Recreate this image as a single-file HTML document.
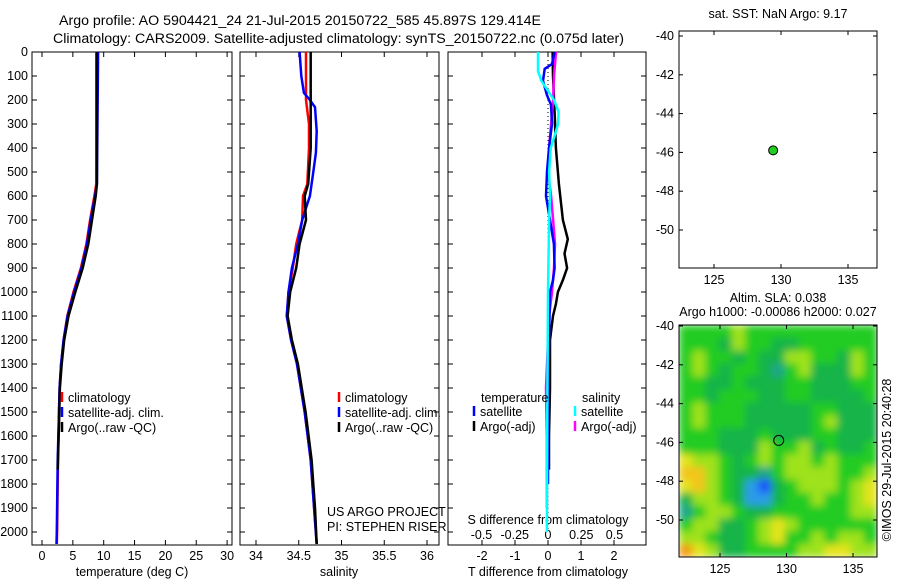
<!DOCTYPE html>
<html><head><meta charset="utf-8"><style>
body{margin:0;background:#fff;}
svg{display:block;font-family:"Liberation Sans",Arial,sans-serif;font-size:12.5px;}
</style></head><body>
<svg id="fig" width="900" height="580" viewBox="0 0 900 580">
<defs>
<filter id="blur" x="0" y="0" width="1" height="1"><feGaussianBlur stdDeviation="4" edgeMode="duplicate"/></filter>
<clipPath id="mapclip"><rect x="679" y="325" width="198" height="232"/></clipPath>
</defs>
<text x="59" y="25" style="font-size:14.2px">Argo profile: AO 5904421_24 21-Jul-2015 20150722_585 45.897S 129.414E</text>
<text x="53" y="43" style="font-size:14.2px">Climatology: CARS2009. Satellite-adjusted climatology: synTS_20150722.nc (0.075d later)</text>
<g id="g"></g>
</svg>
<script>
const depthTicks=[0,100,200,300,400,500,600,700,800,900,1000,1100,1200,1300,1400,1500,1600,1700,1800,1900,2000];
const tempTicks=[0,5,10,15,20,25,30];
const salTicks=[34,34.5,35,35.5,36];
const tdiffTicks=[-2,-1,0,1,2];
const sdiffTicks=[-0.5,-0.25,0,0.25,0.5];
const sdiffLabels=["-0.5","-0.25","0","0.25","0.5"];
const lonTicks=[125,130,135];
const latTicks=[-40,-42,-44,-46,-48,-50];

const tDepth=[0,550,600,700,800,900,1000,1100,1200,1300,1400,1500,1700,2000,2050];
const tArgo=[8.9,8.9,8.7,8.1,7.5,6.6,5.4,4.3,3.6,3.2,2.9,2.8,2.6,2.4,2.3];
const tClim=[8.8,8.8,8.5,7.8,7.2,6.3,5.1,4.1,3.5,3.1,2.85,2.75,2.6,2.45,2.4];
const tSat=[9.1,8.9,8.6,7.9,7.3,6.4,5.2,4.15,3.5,3.1,2.85,2.75,2.55,2.4,2.35];
const argoEnd=1740;

const sDepth=[0,200,300,400,550,600,700,800,900,1000,1100,1200,1300,1500,1700,1900,2050];
const sArgo=[34.64,34.64,34.64,34.64,34.61,34.57,34.585,34.51,34.47,34.40,34.37,34.42,34.49,34.58,34.65,34.69,34.71];
const sClim=[34.585,34.585,34.62,34.62,34.6,34.55,34.54,34.47,34.43,34.38,34.36,34.41,34.48,34.57,34.64,34.68,34.71];
const satSDepth=[0,100,170,200,230,330,420,500,600,700,800,900,1000,1100,1200,1300,1500,1700,1900,2050];
const sSat=[34.51,34.53,34.56,34.63,34.69,34.71,34.7,34.67,34.63,34.54,34.49,34.42,34.38,34.36,34.41,34.48,34.57,34.64,34.68,34.71];

const dDepthBlack=[0,100,250,400,450,550,700,780,840,900,950,1000,1050,1100,1200,1400,1600,1740];
const dTArgo=[0.14,0.15,0.2,0.24,0.27,0.33,0.45,0.6,0.5,0.58,0.45,0.3,0.24,0.15,0.06,0.06,0.03,0.03];
const dDepthBlue=[0,50,70,120,180,220,300,400,500,600,700,800,900,950,1000,1200,1500,1800];
const dTSat=[0.2,0.12,-0.1,-0.15,-0.03,0.09,0.12,0.03,-0.03,-0.06,0.06,0.18,0.2,0.15,0.06,0.03,0.0,0.0];
const dDepthCyan=[0,80,120,200,250,300,350,400,500,600,700,1000,1500,2000];
const dSSat=[-0.075,-0.075,-0.05,0.045,0.08,0.075,0.05,0.02,0.008,0.015,0.008,0.0,-0.005,-0.008];
const dDepthMag=[0,100,200,300,400,500,600,700,800,900,1000,1100,1400,1600,1900];
const dSArgo=[0.06,0.045,0.038,0.023,0.008,0.0,0.023,0.038,0.053,0.045,0.03,0.008,-0.015,-0.008,-0.008];

const slaGrid=[
"555565555555555","555465544555555","565545446655465","565455435644465","554454445544455",
"554555445544445","565554444455444","565554444456444","555444544455444","555444655645445",
"766545656656555","886544356666556","786542145666567","466542245565567","356654455555566",
"566445676555555","665445675565665","976445555667766"];
const slaColors={1:"#1e50ff",2:"#2a9ce8",3:"#1fa58a",4:"#14b448",5:"#22cc22",6:"#9ee21e",7:"#e4e41e",8:"#f2c41c",9:"#f39a10"};

const NS="http://www.w3.org/2000/svg";
const G=document.getElementById('g');
function el(t,a,p){const e=document.createElementNS(NS,t);for(const k in a)e.setAttribute(k,a[k]);(p||G).appendChild(e);return e;}
function txt(x,y,s,anchor,p){const e=el('text',{x:x,y:y,'text-anchor':anchor||'start'},p);e.textContent=s;return e;}

const PT=52,PB=545;
const yD=d=>PT+d*0.24;
function panel(x0,x1,name){
  const g=el('g',{});
  
  
  el('rect',{x:x0,y:PT,width:x1-x0,height:PB-PT,fill:'#fff',stroke:'#000','stroke-width':1},g);
  depthTicks.forEach(d=>{el('line',{x1:x0,x2:x0+5,y1:yD(d),y2:yD(d),stroke:'#000'},g);el('line',{x1:x1-5,x2:x1,y1:yD(d),y2:yD(d),stroke:'#000'},g);});
  return g;
}
function line(g,xs,ds,xf,color,w,name){
  const p=xs.map((v,i)=>xf(v).toFixed(1)+','+yD(ds[i]).toFixed(1)).join(' ');
  const e=el('polyline',{points:p,fill:'none',stroke:color,'stroke-width':w||2},g);
  
  
  return e;
}
const yl=el('g',{});


depthTicks.forEach(d=>txt(28,yD(d)+4,String(d),'end',yl));

// Panel 1 temperature
const xT=v=>42+v*6.17;
const p1=panel(32,232,'temperature-panel');
tempTicks.forEach(v=>{el('line',{x1:xT(v),x2:xT(v),y1:PT,y2:PT+5,stroke:'#000'},p1);el('line',{x1:xT(v),x2:xT(v),y1:PB,y2:PB-5,stroke:'#000'},p1);txt(xT(v),560,String(v),'middle',p1);});
txt(132,576,'temperature (deg C)','middle',p1);
line(p1,tClim,tDepth,xT,'#f00',2.5,'temperature-climatology-line');
line(p1,tSat,tDepth,xT,'#00f',2.5,'temperature-satellite-line');
const ai=tDepth.filter(d=>d<=argoEnd).length;
line(p1,tArgo.slice(0,ai).concat([2.55]),tDepth.slice(0,ai).concat([argoEnd]),xT,'#000',2.5,'temperature-argo-line');
function legend(g,x,y,items){items.forEach((it,i)=>{el('line',{x1:x,x2:x,y1:y+i*15-10,y2:y+i*15,stroke:it[1],'stroke-width':2.5},g);txt(x+6,y+i*15,it[0],'start',g);});}
legend(p1,62,402,[['climatology','#f00'],['satellite-adj. clim.','#00f'],['Argo(..raw -QC)','#000']]);

// Panel 2 salinity
const xS=v=>256+(v-34)*85.5;
const p2=panel(240,439,'salinity-panel');
salTicks.forEach(v=>{el('line',{x1:xS(v),x2:xS(v),y1:PT,y2:PT+5,stroke:'#000'},p2);el('line',{x1:xS(v),x2:xS(v),y1:PB,y2:PB-5,stroke:'#000'},p2);txt(xS(v),560,String(v),'middle',p2);});
txt(339,576,'salinity','middle',p2);
line(p2,sClim,sDepth,xS,'#f00',2.5,'salinity-climatology-line');
line(p2,sSat,satSDepth,xS,'#00f',2.5,'salinity-satellite-line');
line(p2,sArgo,sDepth,xS,'#000',2.5,'salinity-argo-line');
legend(p2,339,402,[['climatology','#f00'],['satellite-adj. clim.','#00f'],['Argo(..raw -QC)','#000']]);
txt(327,516,'US ARGO PROJECT','start',p2);
txt(327,531,'PI: STEPHEN RISER','start',p2);

// Panel 3 differences
const xTd=v=>548+v*33;
const xSd=v=>548+v*133;
const p3=panel(448,646,'difference-panel');
tdiffTicks.forEach(v=>{el('line',{x1:xTd(v),x2:xTd(v),y1:PT,y2:PT+5,stroke:'#000'},p3);el('line',{x1:xTd(v),x2:xTd(v),y1:PB,y2:PB-5,stroke:'#000'},p3);txt(xTd(v),560,String(v),'middle',p3);});
sdiffTicks.forEach((v,i)=>txt(xSd(v),539,sdiffLabels[i],'middle',p3));
txt(548,524,'S difference from climatology','middle',p3);
txt(548,576,'T difference from climatology','middle',p3);
el('line',{x1:548,x2:548,y1:PT,y2:yD(2000),stroke:'#000','stroke-dasharray':'1,3'},p3);
line(p3,dTArgo,dDepthBlack,xTd,'#000',2.5,'tdiff-argo-line');
line(p3,dSArgo,dDepthMag,xSd,'#f0f',2.5,'sdiff-argo-line');
line(p3,dTSat,dDepthBlue,xTd,'#00f',2.5,'tdiff-satellite-line');
line(p3,dSSat,dDepthCyan,xSd,'#0ff',2.5,'sdiff-satellite-line');
txt(481,402,'temperature','start',p3);
legend(p3,474,416,[['satellite','#00f'],['Argo(-adj)','#000']]);
txt(582,402,'salinity','start',p3);
legend(p3,575,416,[['satellite','#0ff'],['Argo(-adj)','#f0f']]);

function mapAxes(g,x0,x1,y0,y1,lx,ly){
  el('rect',{x:x0,y:y0,width:x1-x0,height:y1-y0,fill:'none',stroke:'#000'},g);
  lonTicks.forEach(v=>{const x=lx(v);el('line',{x1:x,x2:x,y1:y0,y2:y0+4,stroke:'#000'},g);el('line',{x1:x,x2:x,y1:y1,y2:y1-4,stroke:'#000'},g);txt(x,y1+16,String(v),'middle',g);});
  latTicks.forEach(v=>{const y=ly(v);el('line',{x1:x0,x2:x0+4,y1:y,y2:y,stroke:'#000'},g);el('line',{x1:x1,x2:x1-4,y1:y,y2:y,stroke:'#000'},g);txt(x0-5,y+4,String(v),'end',g);});
}
const m1=el('g',{});


const lx1=v=>714+(v-125)*13.4, ly1=v=>36+(-40-v)*19.4;
txt(778,18,'sat. SST: NaN Argo: 9.17','middle',m1);
mapAxes(m1,679,877,31,268,lx1,ly1);
const dot1=el('circle',{cx:lx1(129.414),cy:ly1(-45.897),r:4.5,fill:'#22cc22',stroke:'#000'},m1);



const m2=el('g',{});


const X0=679,X1=877,Y0=325,Y1=557;
const clipG=el('g',{'clip-path':'url(#mapclip)'},m2);
const heat=el('g',{filter:'url(#blur)'},clipG);
const cols=slaGrid[0].length, rows=slaGrid.length, cw=(X1-X0)/cols, ch=(Y1-Y0)/rows;
slaGrid.forEach((r,ri)=>{for(let ci=0;ci<cols;ci++){
  const c=el('rect',{x:X0+ci*cw,y:Y0+ri*ch,width:cw+0.6,height:ch+0.6,fill:slaColors[r[ci]]},heat);
  
  
}});
const lx2=v=>720+(v-125)*13.3, ly2=v=>326+(-40-v)*19.4;
mapAxes(m2,X0,X1,Y0,Y1,lx2,ly2);
txt(778,302,'Altim. SLA: 0.038','middle',m2);
txt(778,316,'Argo h1000: -0.00086 h2000: 0.027','middle',m2);
const dot2=el('circle',{cx:lx2(129.414),cy:ly2(-45.897),r:5,fill:'none',stroke:'#000'},m2);


const cr=txt(0,0,'©IMOS 29-Jul-2015 20:40:28','middle',m2);
cr.setAttribute('transform','translate(891,460) rotate(-90)');
</script>
</body></html>
